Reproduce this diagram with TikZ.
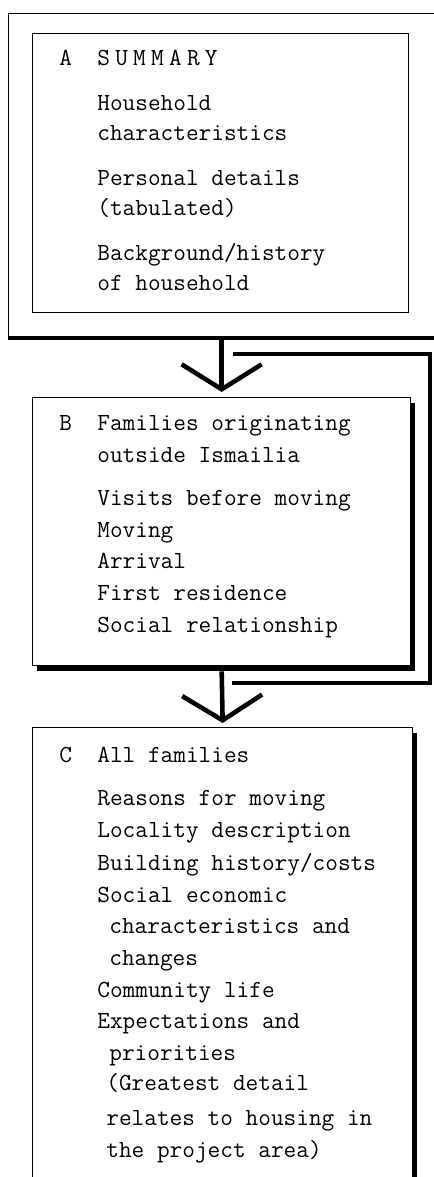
\documentclass[tikz,border=0pt]{standalone}
\usepackage{fontspec}
\usetikzlibrary{arrows.meta, shadows}

\begin{document}
\begin{tikzpicture}[x=0.02cm, y=-0.02cm,
    outerframe/.style={draw, line width=0.8pt, anchor=north west, inner sep=0pt},
    box/.style={draw, line width=0.8pt, fill=white, anchor=north west, inner sep=0pt},
    shadowbox/.style={box, drop shadow={shadow xshift=0.09cm, shadow yshift=-0.1cm, fill=black, opacity=1}},
    entry/.style={anchor=base west, inner sep=0pt, font=\ttfamily\fontsize{14}{16}\selectfont},
    flow/.style={line width=2.6pt, -{Straight Barb[length=0.5cm, width=1.6cm]}},
    bypass/.style={line width=2.2pt}
  ]
  \useasboundingbox (0,0) rectangle (433,1177);

  \node[outerframe, minimum width=9.04cm, minimum height=6.48cm] (outerA) at (8,13) {};
  \draw[line width=2.2pt] (outerA.south west) -- (outerA.south east);
  \node[box, minimum width=7.52cm, minimum height=5.58cm] (boxA) at (32,33) {};
  \node[shadowbox, minimum width=7.56cm, minimum height=5.36cm] (boxB) at (32,397) {};
  \node[shadowbox, minimum width=7.6cm, minimum height=9.6cm] (boxC) at (32,727) {};

  \node[entry] (labA) at (59,65) {A};
  \node[entry] (labB) at (59,430) {B};
  \node[entry] (labC) at (59,762) {C};

  \foreach \x/\y/\t in {97/65/{S\kern3pt U\kern3pt M\kern3pt M\kern3pt A\kern3pt R\kern3pt Y},
      97/110/Household, 97/140/characteristics, 97/185/Personal details,
      97/215/(tabulated), 97/260/{Background/history}, 97/290/of household} {
    \node[entry] (a\y) at (\x,\y) {\t};
  }
  \foreach \x/\y/\t in {97/430/Families originating, 97/462/outside Ismailia,
      97/505/Visits before moving, 97/537/Moving, 97/568/Arrival,
      97/600/First residence, 97/632/Social relationship} {
    \node[entry] (b\y) at (\x,\y) {\t};
  }
  \foreach \x/\y/\t in {97/762/All families, 97/805/Reasons for moving,
      97/837/Locality description, 97/870/{Building history/costs},
      97/902/Social economic, 109/933/characteristics and, 109/965/changes,
      97/997/Community life, 97/1028/Expectations and, 109/1060/priorities,
      106/1090/(Greatest detail, 106/1125/relates to housing in,
      106/1157/the project area)} {
    \node[entry] (c\y) at (\x,\y) {\t};
  }

  \draw[flow] (outerA.south -| boxB.north) -- ([yshift=0.1cm]boxB.north);
  \draw[flow] ([yshift=-0.1cm]boxB.south) -- ([yshift=0.08cm]boxC.north);

  \coordinate (bypassin) at (233,354);
  \coordinate (bypassout) at (232,683);
  \coordinate (bypassx) at (430,0);
  \draw[bypass] (bypassin) -| (bypassx |- bypassout) -- (bypassout);
\end{tikzpicture}
\end{document}
